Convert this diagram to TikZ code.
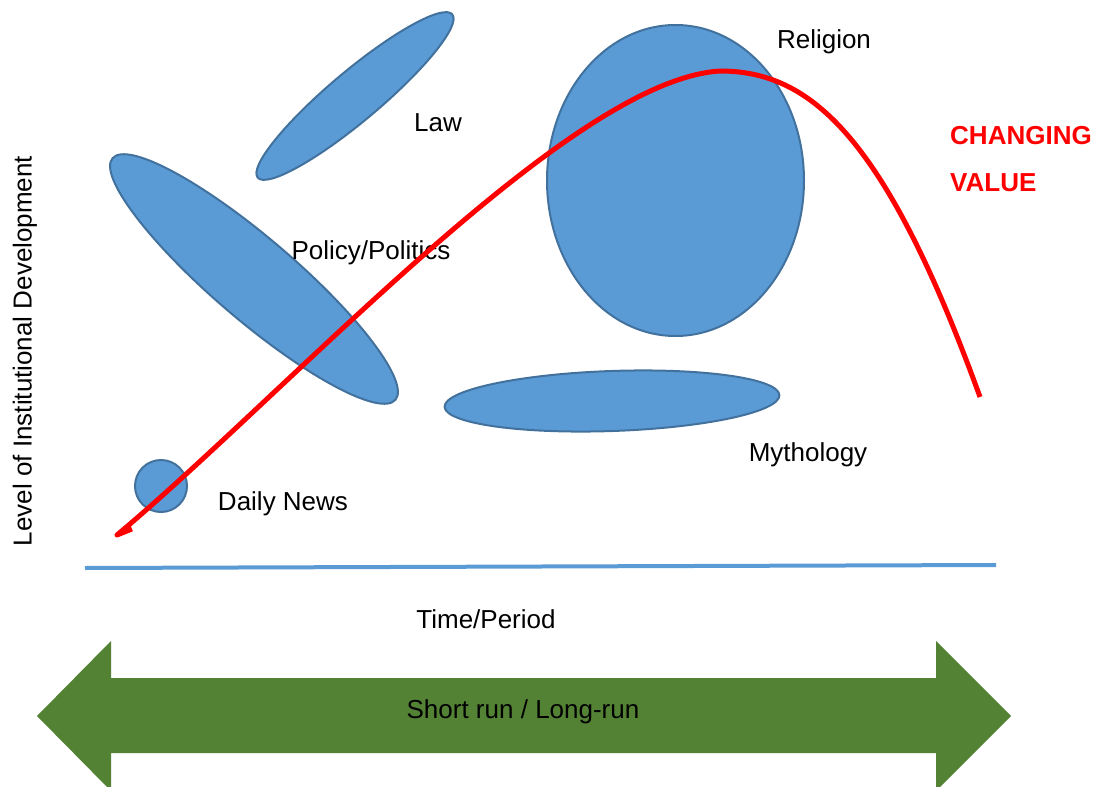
\documentclass[tikz,border=0pt]{standalone}
\usepackage{fontspec}
\setmainfont{Liberation Sans}
\usetikzlibrary{shapes.geometric}
\definecolor{blobfill}{HTML}{5B9BD5}
\definecolor{blobedge}{HTML}{41719C}
\definecolor{axisblue}{HTML}{5B9BD5}
\definecolor{rungreen}{HTML}{548235}
\begin{document}
\begin{tikzpicture}[x=1pt,y=-1pt,
  blob/.style={ellipse,draw=blobedge,fill=blobfill,line width=2pt,inner sep=0pt},
  lbl/.style={font=\fontsize{26}{31}\selectfont,text=black,inner sep=0pt},
  hot/.style={font=\fontsize{26}{31}\selectfont\bfseries,text=red,inner sep=0pt,anchor=west}]
\useasboundingbox (0,0) rectangle (1096,787);

% institution blobs
\node[blob,minimum width=254pt,minimum height=50pt,rotate=40] (law) at (355,96) {};
\node[blob,minimum width=372pt,minimum height=82pt,rotate=-40.5] (policy) at (254,279) {};
\node[blob,minimum width=257pt,minimum height=311pt] (religion) at (675.5,180.5) {};
\node[blob,minimum width=335pt,minimum height=60pt,rotate=2] (myth) at (612,401) {};
\node[blob,circle,minimum size=52pt] (news) at (161,486) {};

% labels
\node[lbl] (lawl) at (438,123) {Law};
\node[lbl] (policyl) at (371,253) {Policy/Politics};
\node[lbl] (religionl) at (824,42) {Religion};
\node[lbl] (mythl) at (808,455) {Mythology};
\node[lbl] (newsl) at (283,504) {Daily News};
\node[hot] (chg) at (950,136) {CHANGING};
\node[hot] (val) at (950,183) {VALUE};

% horizontal axis and its labels
\coordinate (ax0) at (85,568);
\coordinate (ax1) at (996,565);
\draw[axisblue,line width=4pt] (ax0) -- (ax1);
\node[lbl] (timel) at (486,619) {Time/Period};
\node[lbl,rotate=90] (levell) at (25,351) {Level of Institutional Development};

% short run / long run double arrow
\fill[rungreen] (37,716) -- (111,641) -- (111,678) -- (936,678) -- (936,641)
  -- (1011,716) -- (936,791) -- (936,753) -- (111,753) -- (111,791) -- cycle;
\node[lbl] (runl) at (523,712) {Short run / Long-run};

% changing value curve: rise to a peak, then a steep fall
\coordinate (c0) at (117,535);
\coordinate (cpeak) at (720,71);
\coordinate (cend) at (980,397);
\draw[red,line width=5pt,line join=round,line cap=butt]
  (132,529) -- (c0)
  .. controls (290,390) and (570,80) .. (cpeak)
  .. controls (810,71) and (885,135) .. (cend);
\end{tikzpicture}
\end{document}
